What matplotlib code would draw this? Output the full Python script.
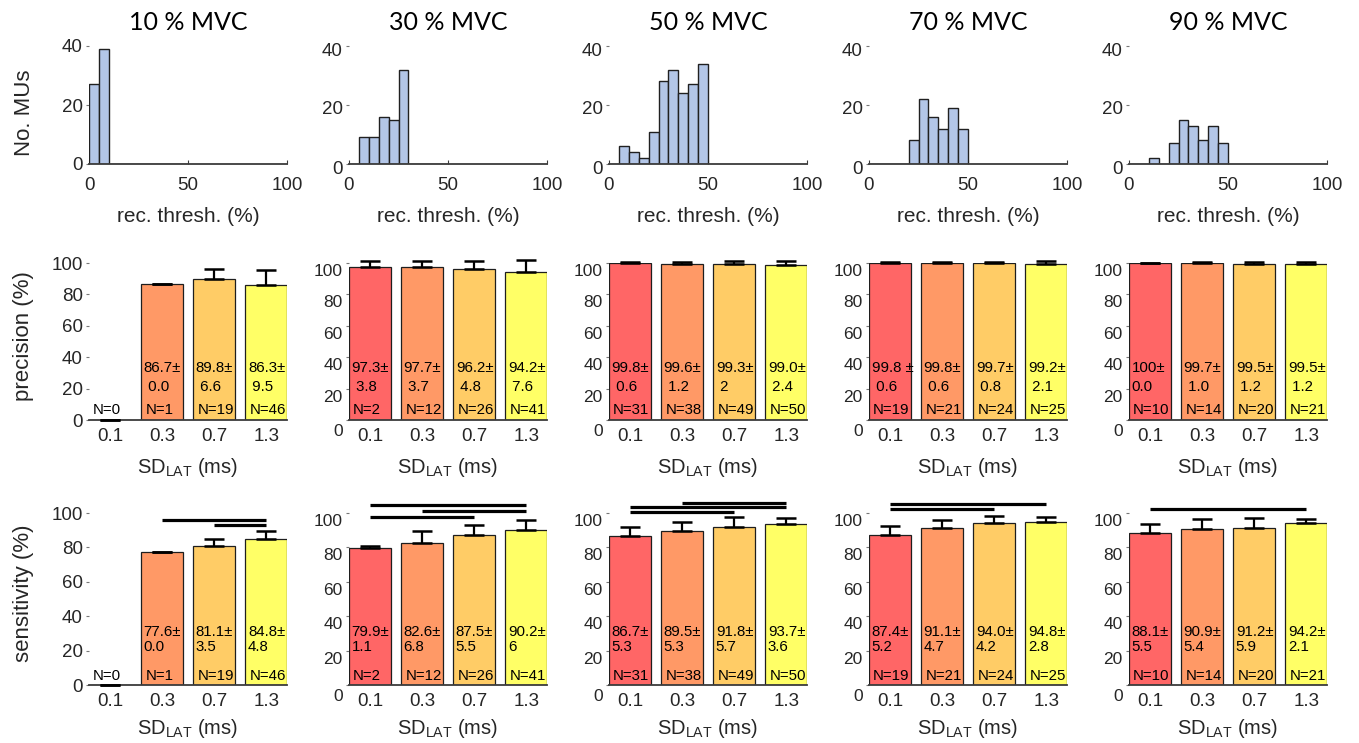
import matplotlib.pyplot as plt
import matplotlib.transforms as mtransforms
import numpy as np

plt.rcParams['font.family'] = ['Liberation Sans', 'DejaVu Sans']

# ---- data -------------------------------------------------------------
titles = ['10 % MVC', '30 % MVC', '50 % MVC', '70 % MVC', '90 % MVC']
sd_lat = ['0.1', '0.3', '0.7', '1.3']

bin_left = np.arange(0, 50, 5)          # 5 % wide bins, 0-50 %
hist_10 = [27, 39, 0, 0, 0, 0, 0, 0, 0, 0]
hist_30 = [0, 9, 9, 16, 15, 32, 0, 0, 0, 0]
hist_50 = [0, 6, 4, 2, 11, 28, 32, 24, 27, 34]
hist_70 = [0, 0, 0, 0, 8, 22, 16, 12, 19, 12]
hist_90 = [0, 0, 2, 0, 7, 15, 13, 8, 13, 7]
hists = [hist_10, hist_30, hist_50, hist_70, hist_90]

n_mu = [[0, 1, 19, 46], [2, 12, 26, 41], [31, 38, 49, 50],
        [19, 21, 24, 25], [10, 14, 20, 21]]

prec_mean = [[0, 86.7, 89.8, 86.3], [97.3, 97.7, 96.2, 94.2],
             [99.8, 99.6, 99.3, 99.0], [99.8, 99.8, 99.7, 99.2],
             [100, 99.7, 99.5, 99.5]]
prec_sd = [[0, 0.0, 6.6, 9.5], [3.8, 3.7, 4.8, 7.6],
           [0.6, 1.2, 2.0, 2.4], [0.6, 0.6, 0.8, 2.1],
           [0.0, 1.0, 1.2, 1.2]]
prec_txt = [['', '86.7±\n 0.0', '89.8±\n 6.6', '86.3±\n 9.5'],
            ['97.3±\n 3.8', '97.7±\n 3.7', '96.2±\n 4.8', '94.2±\n 7.6'],
            ['99.8±\n 0.6', '99.6±\n 1.2', '99.3±\n 2', '99.0±\n 2.4'],
            ['99.8 ±\n 0.6', '99.8±\n 0.6', '99.7±\n 0.8', '99.2±\n 2.1'],
            ['100±\n0.0', '99.7±\n 1.0', '99.5±\n 1.2', '99.5±\n 1.2']]

sens_mean = [[0, 77.6, 81.1, 84.8], [79.9, 82.6, 87.5, 90.2],
             [86.7, 89.5, 91.8, 93.7], [87.4, 91.1, 94.0, 94.8],
             [88.1, 90.9, 91.2, 94.2]]
sens_sd = [[0, 0.0, 3.5, 4.8], [1.1, 6.8, 5.5, 6.0],
           [5.3, 5.3, 5.7, 3.6], [5.2, 4.7, 4.2, 2.8],
           [5.5, 5.4, 5.9, 2.1]]
sens_txt = [['', '77.6±\n0.0', '81.1±\n3.5', '84.8±\n4.8'],
            ['79.9±\n1.1', '82.6±\n6.8', '87.5±\n5.5', '90.2±\n6'],
            ['86.7±\n5.3', '89.5±\n5.3', '91.8±\n5.7', '93.7±\n3.6'],
            ['87.4±\n5.2', '91.1±\n4.7', '94.0±\n4.2', '94.8±\n2.8'],
            ['88.1±\n5.5', '90.9±\n5.4', '91.2±\n5.9', '94.2±\n2.1']]

# significance bars (from bar, to bar, height) for sensitivity
sens_sig = [[(2, 4, 96), (3, 4, 93)],
            [(1, 4, 104.7), (2, 4, 101), (1, 3, 97.7)],
            [(2, 4, 105.8), (1, 4, 103.5), (1, 3, 100.6)],
            [(1, 4, 105.2), (1, 3, 102.3)],
            [(1, 4, 102.3)]]

# ---- style ------------------------------------------------------------
W, H = 1359, 743
ink = '#262626'
axis_col = '#3c3c3c'
hist_blue = '#b3c6e7'
bar_cols = ['#ff6666', '#ff9966', '#ffcc66', '#ffff66']

fig = plt.figure(figsize=(W / 100, H / 100), dpi=100)


def add_ax(left, top, width, height):
    return fig.add_axes([left / W, 1 - (top + height) / H, width / W, height / H])


def shift_yticklabels(ax, dy, dy_zero):
    for lab in ax.get_yticklabels():
        d = dy_zero if lab.get_text() == '0' else dy
        lab.set_transform(lab.get_transform() +
                          mtransforms.ScaledTranslation(0, -d / 100, fig.dpi_scale_trans))


def style_axes(ax):
    for s in ['top', 'right', 'left']:
        ax.spines[s].set_visible(False)
    ax.spines['bottom'].set_color(axis_col)
    ax.spines['bottom'].set_linewidth(1.3)


def draw_bars(ax, means, sds, txt, ns, ylines, k):
    x = np.arange(1, 5)
    ax.bar(x, means, width=0.8, color=bar_cols, edgecolor='#1e1e1e',
           linewidth=0.9, zorder=2)
    ax.errorbar(x, means, yerr=[np.zeros(4), sds], fmt='none', ecolor='k',
                elinewidth=1.6, capsize=7.5, capthick=1.8, zorder=3, clip_on=False)
    for i in range(4):
        xl = x[i] - 0.4 + 0.05
        if txt[i]:
            lines = txt[i].split('\n')
            ax.text(xl, ylines[0], lines[0], fontsize=10.8, va='center', ha='left', zorder=4)
            ax.text(xl, ylines[1], lines[1], fontsize=10.8, va='center', ha='left', zorder=4)
        ax.text(xl + 0.03, ylines[2], 'N=%d' % ns[i], fontsize=10.8, va='center',
                ha='left', zorder=4)
    ax.set_xlim(0.6, 4.4)
    ax.set_ylim(0, 100)
    ax.set_xticks(x, sd_lat)
    ax.set_yticks([0, 20, 40, 60, 80, 100])
    style_axes(ax)
    ax.tick_params(axis='x', length=0, pad=5.5, labelsize=13.5, labelcolor=ink)
    ysize = 13.5 if k == 0 else 12.5
    ax.tick_params(axis='y', length=2, width=0.8, color='#777777', direction='out',
                   pad=2.5, labelsize=ysize, labelcolor=ink)


AX_W = 198
lefts = [89 + 260 * k for k in range(5)]

for k in range(5):
    x0 = lefts[k]
    cx = x0 + AX_W / 2

    # recruitment threshold histogram
    ax = add_ax(x0, 46, AX_W, 118)
    ax.bar(bin_left, hists[k], width=5, align='edge', color=hist_blue,
           edgecolor='#202020', linewidth=1.0, zorder=2)
    ax.set_xlim(0, 100)
    ax.set_ylim(0, 40)
    ax.set_xticks([0, 50, 100])
    ax.set_yticks([0, 20, 40])
    style_axes(ax)
    ax.tick_params(axis='x', direction='in', length=3, color=axis_col, pad=9,
                   labelsize=13.5, labelcolor=ink)
    ax.tick_params(axis='y', direction='out', length=2, width=0.8, color='#777777',
                   pad=2.5, labelsize=13.5, labelcolor=ink)
    if k > 0:
        shift_yticklabels(ax, 3, 3)
    fig.text(cx / W, 1 - 23 / H, titles[k], family=['Lato', 'DejaVu Sans'],
             fontsize=18, ha='center', va='center', color='k')
    fig.text(cx / W, 1 - 222 / H, 'rec. thresh. (%)', fontsize=15, ha='center',
             va='baseline', color=ink)

    # precision
    ax = add_ax(x0, 263, AX_W, 157)
    draw_bars(ax, prec_mean[k], prec_sd[k], prec_txt[k], n_mu[k], (33.1, 21.0, 6.2), k)
    if k > 0:
        shift_yticklabels(ax, 7, 10)
    fig.text(cx / W, 1 - 473 / H, r'$\mathregular{SD_{LAT}}$ (ms)', fontsize=14.5,
             ha='center', va='baseline', color=ink)

    # sensitivity
    ax = add_ax(x0, 513, AX_W, 172)
    draw_bars(ax, sens_mean[k], sens_sd[k], sens_txt[k], n_mu[k], (30.8, 22.1, 5.0), k)
    for a, b, y in sens_sig[k]:
        ax.plot([a, b], [y, y], color='k', lw=2.3, clip_on=False,
                solid_capstyle='butt', zorder=5)
    if k > 0:
        shift_yticklabels(ax, 7, 10)
    fig.text(cx / W, 1 - 734 / H, r'$\mathregular{SD_{LAT}}$ (ms)', fontsize=14.5,
             ha='center', va='baseline', color=ink)

fig.text(25 / W, 1 - 113 / H, 'No. MUs', rotation=90, fontsize=16, ha='center',
         va='center', color=ink)
fig.text(24 / W, 1 - 336 / H, 'precision (%)', rotation=90, fontsize=16,
         ha='center', va='center', color=ink)
fig.text(24 / W, 1 - 593 / H, 'sensitivity (%)', rotation=90, fontsize=16,
         ha='center', va='center', color=ink)

fig.savefig('out.png', dpi=100)
